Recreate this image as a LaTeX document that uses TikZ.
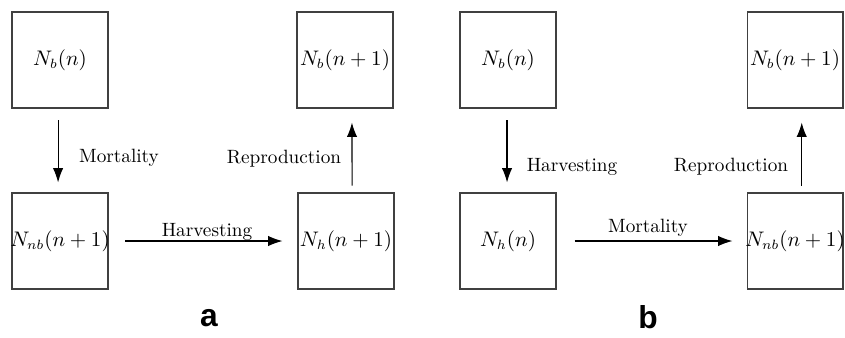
\documentclass[tikz,border=0pt]{standalone}
\usepackage{fontspec}
\newfontfamily\labfont{Liberation Sans}
\usetikzlibrary{arrows.meta}
\newcommand{\boxtxt}[1]{\makebox[0pt]{#1}}
\begin{document}
\begin{tikzpicture}[x=0.52pt,y=-0.52pt,
  box/.style={draw=black!75,line width=0.55pt,minimum width=49.9pt,minimum height=49.9pt,inner sep=0pt,font=\fontsize{10.6}{12}\selectfont},
  arr/.style={draw=black,line width=0.6pt,-{Latex[length=7.5pt,width=5.4pt]}},
  lab/.style={inner sep=0pt,anchor=base,font=\fontsize{10}{12}\selectfont},
  pan/.style={inner sep=0pt,font=\fontsize{16.5}{18}\selectfont\labfont\bfseries}]
\useasboundingbox (0,0) rectangle (845,337);
% panel a
\node[box] (A1) at (60,60) {\boxtxt{$N_b(n)$}};
\node[box] (A2) at (60,241) {\boxtxt{$N_{nb}(n+1)$}};
\node[box] (A3) at (346,241) {\boxtxt{$N_h(n+1)$}};
\node[box] (A4) at (345,60) {\boxtxt{$N_b(n+1)$}};
\draw[arr,shorten <=6.2pt,shorten >=5.2pt] ([xshift=-1pt]A1.south) -- ([xshift=-1pt]A2.north);
\draw[arr,shorten <=8.8pt,shorten >=7.8pt] (A2.east) -- (A3.west);
\draw[arr,shorten <=3.6pt,shorten >=7.3pt] ([xshift=3.2pt]A3.north) -- ([xshift=3.6pt]A4.south);
\node[lab] (La1) at (119,162) {Mortality};
\node[lab] (La2) at (207,236) {Harvesting};
\node[lab] (La3) at (284,163) {Reproduction};
\node[pan] (PA) at (209,318) {a};
% panel b
\node[box] (B1) at (508,60) {\boxtxt{$N_b(n)$}};
\node[box] (B2) at (508,241) {\boxtxt{$N_h(n)$}};
\node[box] (B3) at (795,241) {\boxtxt{$N_{nb}(n+1)$}};
\node[box] (B4) at (795,60) {\boxtxt{$N_b(n+1)$}};
\draw[arr,shorten <=6.2pt,shorten >=5.2pt] ([xshift=-0.5pt]B1.south) -- ([xshift=-0.5pt]B2.north);
\draw[arr,shorten <=9.4pt,shorten >=7.3pt] (B2.east) -- (B3.west);
\draw[arr,shorten <=3.6pt,shorten >=7.3pt] ([xshift=3.5pt]B3.north) -- ([xshift=3.5pt]B4.south);
\node[lab] (Lb1) at (572,171) {Harvesting};
\node[lab] (Lb2) at (648,232) {Mortality};
\node[lab] (Lb3) at (731,171) {Reproduction};
\node[pan] (PB) at (648,317) {b};
\end{tikzpicture}
\end{document}
